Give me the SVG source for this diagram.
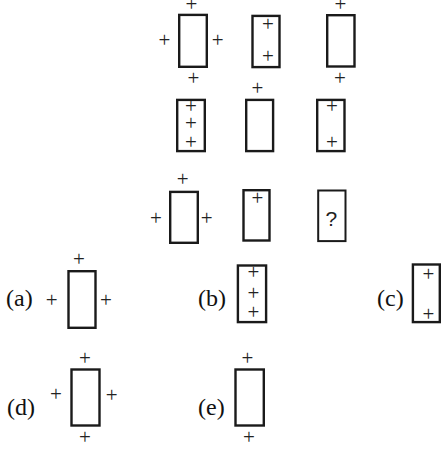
<svg xmlns="http://www.w3.org/2000/svg" width="443" height="452" viewBox="0 0 443 452">
<style>
rect.b{fill:#fff;stroke:#1a1a1a;stroke-width:2.4}
text.p{font-family:'Liberation Serif',serif;font-size:21px;fill:#222;text-anchor:middle}
text.l{font-family:'Liberation Serif',serif;font-size:24px;fill:#111}
text.q{font-family:'Liberation Sans',sans-serif;font-size:21px;fill:#222;text-anchor:middle}
</style>
<rect width="443" height="452" fill="#fff"/>
<g id="fig1"><rect class="b" x="179.2" y="14.9" width="27.6" height="51.9"/>
<text class="p" x="191.5" y="11">+</text><text class="p" x="164.3" y="47">+</text><text class="p" x="217.7" y="47.3">+</text><text class="p" x="193.3" y="84.6">+</text></g>
<g id="fig2"><rect class="b" x="252.5" y="15.9" width="27" height="51.2"/>
<text class="p" x="268" y="30.6">+</text><text class="p" x="268" y="62.6">+</text></g>
<g id="fig3"><rect class="b" x="327.2" y="15.2" width="27.3" height="51.3"/>
<text class="p" x="340.3" y="11">+</text><text class="p" x="340" y="84.6">+</text></g>
<g id="fig4"><rect class="b" x="177.2" y="99.9" width="27.6" height="51.2"/>
<text class="p" x="191" y="113">+</text><text class="p" x="191" y="130.3">+</text><text class="p" x="191" y="149.3">+</text></g>
<g id="fig5"><rect class="b" x="246.2" y="99.9" width="26.9" height="51.2"/>
<text class="p" x="257.3" y="94.6">+</text></g>
<g id="fig6"><rect class="b" x="317.2" y="99.9" width="27.3" height="51.2"/>
<text class="p" x="332" y="113.3">+</text><text class="p" x="332" y="149.3">+</text></g>
<g id="fig7"><rect class="b" x="170.2" y="191.9" width="27.6" height="50.9"/>
<text class="p" x="182.7" y="186.3">+</text><text class="p" x="156" y="224.6">+</text><text class="p" x="206.7" y="224.6">+</text></g>
<g id="fig8"><rect class="b" x="243.5" y="190.2" width="26" height="50.3"/>
<text class="p" x="257.3" y="205.3">+</text></g>
<g id="fig9"><rect class="b" x="318.2" y="190.5" width="27.3" height="50.6" style="stroke-width:2"/>
<text class="q" x="331.3" y="226">?</text></g>
<g id="optA"><text class="l" x="6" y="306">(a)</text><rect class="b" x="68.5" y="271.2" width="27" height="56.6"/>
<text class="p" x="51.7" y="307">+</text><text class="p" x="79" y="266">+</text><text class="p" x="106" y="307.3">+</text></g>
<g id="optB"><text class="l" x="198" y="306">(b)</text><rect class="b" x="237.9" y="265.5" width="28.2" height="56.6"/>
<text class="p" x="253.3" y="278.6">+</text><text class="p" x="253.3" y="299.6">+</text><text class="p" x="253.3" y="318.6">+</text></g>
<g id="optC"><text class="l" x="377" y="306">(c)</text><rect class="b" x="412.9" y="264.5" width="26.9" height="57.6"/>
<text class="p" x="428.3" y="281">+</text><text class="p" x="428.3" y="321.3">+</text></g>
<g id="optD"><text class="l" x="7" y="415">(d)</text><rect class="b" x="71.5" y="369.5" width="28" height="56"/>
<text class="p" x="56" y="401.3">+</text><text class="p" x="85" y="364.6">+</text><text class="p" x="111.7" y="402">+</text><text class="p" x="85" y="444.3">+</text></g>
<g id="optE"><text class="l" x="198" y="415">(e)</text><rect class="b" x="235.5" y="369.5" width="28.3" height="56"/>
<text class="p" x="247.3" y="364.6">+</text><text class="p" x="249" y="444.3">+</text></g>
<g id="connectors"/>
</svg>
